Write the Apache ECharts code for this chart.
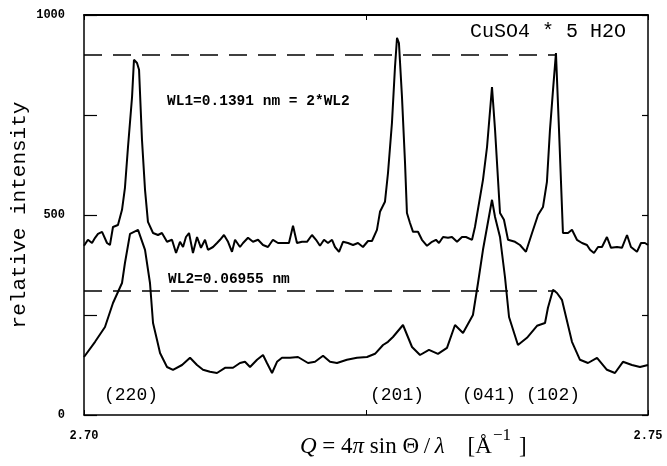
<!DOCTYPE html>
<html>
<head>
<meta charset="utf-8">
<script src="https://cdn.jsdelivr.net/npm/echarts@6/dist/echarts.min.js"></script>
<style>
html,body{margin:0;padding:0;background:#fff;}
#chart{width:667px;height:466px;}
</style>
</head>
<body>
<div id="chart"></div>
<script>
// Q values (Å^-1) and intensities, WL1 = 0.1391 nm (upper curve)
const upperQ = [2.70000,2.70035,2.70071,2.70098,2.70124,2.70160,2.70204,2.70230,2.70257,2.70301,
2.70337,2.70363,2.70390,2.70426,2.70443,2.70470,2.70488,2.70514,2.70541,2.70567,
2.70612,2.70656,2.70691,2.70736,2.70780,2.70816,2.70851,2.70878,2.70904,2.70931,
2.70966,2.71002,2.71037,2.71073,2.71099,2.71144,2.71179,2.71206,2.71241,2.71277,
2.71312,2.71339,2.71383,2.71410,2.71454,2.71498,2.71543,2.71587,2.71631,2.71675,
2.71720,2.71782,2.71817,2.71853,2.71888,2.71933,2.71977,2.72021,2.72057,2.72092,
2.72128,2.72163,2.72199,2.72225,2.72261,2.72296,2.72340,2.72385,2.72429,2.72473,
2.72518,2.72553,2.72597,2.72624,2.72668,2.72695,2.72730,2.72757,2.72775,2.72792,
2.72819,2.72846,2.72863,2.72890,2.72917,2.72961,2.72996,2.73041,2.73085,2.73120,
2.73147,2.73183,2.73227,2.73262,2.73307,2.73351,2.73386,2.73440,2.73466,2.73537,
2.73573,2.73617,2.73644,2.73688,2.73723,2.73759,2.73821,2.73865,2.73918,2.73972,
2.74025,2.74069,2.74104,2.74131,2.74158,2.74184,2.74211,2.74246,2.74291,2.74326,
2.74370,2.74415,2.74459,2.74486,2.74521,2.74557,2.74592,2.74636,2.74672,2.74725,
2.74769,2.74814,2.74849,2.74902,2.74938,2.74973,2.75000];
const upperI = [423,438,430,443,453,458,430,425,470,475,
513,568,670,795,888,880,863,688,563,483,
455,450,455,433,438,405,433,420,445,455,
405,445,418,438,413,420,430,438,450,433,
408,438,420,430,443,433,438,425,420,438,
430,430,430,473,430,433,433,450,438,423,
438,430,438,420,408,433,430,425,430,420,
435,435,463,508,533,605,730,870,943,930,
795,630,505,480,458,458,438,423,433,438,
430,445,443,445,433,445,445,438,470,588,
670,820,713,505,488,438,433,425,408,455,
500,520,583,713,813,905,713,455,455,463,
438,430,425,413,405,420,420,445,418,420,
418,450,420,408,430,430,425];

// WL2 = 0.06955 nm (lower curve)
const lowerQ = [2.70000,2.70098,2.70186,2.70257,2.70337,2.70363,2.70408,2.70479,2.70541,2.70585,
2.70612,2.70647,2.70674,2.70736,2.70789,2.70869,2.70940,2.71002,2.71055,2.71117,
2.71179,2.71250,2.71321,2.71383,2.71427,2.71472,2.71534,2.71587,2.71622,2.71667,
2.71711,2.71755,2.71826,2.71897,2.71986,2.72048,2.72119,2.72181,2.72243,2.72331,
2.72420,2.72509,2.72580,2.72651,2.72695,2.72739,2.72828,2.72908,2.72979,2.73058,
2.73138,2.73218,2.73289,2.73360,2.73448,2.73493,2.73537,2.73617,2.73644,2.73688,
2.73732,2.73768,2.73847,2.73927,2.74016,2.74087,2.74113,2.74158,2.74193,2.74237,
2.74326,2.74397,2.74468,2.74548,2.74636,2.74707,2.74778,2.74858,2.74929,2.75000];
const lowerI = [145,183,220,280,330,380,453,463,413,330,
230,188,155,120,113,125,143,125,113,108,
105,118,118,130,133,120,138,150,130,105,
133,143,143,145,130,133,148,133,130,138,
143,145,153,175,183,195,225,170,150,163,
153,168,225,205,250,330,413,538,495,445,
345,245,175,193,223,230,268,313,305,288,
183,138,130,143,113,105,133,125,120,125];

// dashed reference levels (heights of the (102) reflection)
const refLevelQ = [2.70, 2.7418];
const refUpper = 900;
const refLower = 310;

const yTickLabels = [0, 500, 1000];
const xTickLabels = ['2.70', '2.75'];

const zip = (a, b) => a.map((v, i) => [v, b[i]]);

const chart = echarts.init(document.getElementById('chart'), null, {renderer: 'canvas'});
const mono = "'Liberation Mono', 'DejaVu Sans Mono', monospace";
const serif = "'Liberation Serif', 'DejaVu Serif', serif";

const boxLine = {show: true, onZero: false, lineStyle: {color: '#000', width: 1.5}};

const option = {
  animation: false,
  backgroundColor: '#fff',
  grid: {left: 84, right: 19, top: 15, bottom: 51, containLabel: false, outerBoundsMode: 'none'},
  xAxis: [{
    type: 'value', min: 2.70, max: 2.75, interval: 0.025,
    axisLine: boxLine,
    axisTick: {inside: true, length: 5, lineStyle: {color: '#000', width: 1}},
    splitLine: {show: false},
    axisLabel: {
      color: '#000', fontFamily: mono, fontWeight: 'bold', fontSize: 12, margin: 15,
      formatter: v => { const s = v.toFixed(2); return (xTickLabels.indexOf(s) >= 0 && Math.abs(v - parseFloat(s)) < 1e-6) ? s : ''; }
    }
  }, {
    type: 'value', min: 2.70, max: 2.75, interval: 0.025, position: 'top',
    axisLine: {show: true, onZero: false, lineStyle: {color: '#000', width: 1.8}},
    axisTick: {inside: true, length: 5, lineStyle: {color: '#000', width: 1}},
    axisLabel: {show: false}, splitLine: {show: false}
  }],
  yAxis: [{
    type: 'value', min: 0, max: 1000, interval: 250,
    name: 'relative intensity', nameLocation: 'middle', nameRotate: 90, nameGap: 54,
    nameMoveOverlap: false,
    nameTextStyle: {color: '#000', fontFamily: mono, fontSize: 21},
    axisLine: boxLine,
    axisTick: {inside: true, length: 13, lineStyle: {color: '#000', width: 1.2}},
    splitLine: {show: false},
    axisLabel: {
      color: '#000', fontFamily: mono, fontWeight: 'bold', fontSize: 12, margin: 19,
      formatter: v => yTickLabels.indexOf(v) >= 0 ? String(v) : ''
    }
  }, {
    type: 'value', min: 0, max: 1000, interval: 250, position: 'right',
    axisLine: boxLine,
    axisTick: {inside: true, length: 6, lineStyle: {color: '#000', width: 1.2}},
    axisLabel: {show: false}, splitLine: {show: false}
  }],
  series: [
    {type: 'line', data: zip(upperQ, upperI), showSymbol: false, symbol: 'none',
     lineStyle: {color: '#000', width: 2}, z: 3},
    {type: 'line', data: zip(lowerQ, lowerI), showSymbol: false, symbol: 'none',
     lineStyle: {color: '#000', width: 2}, z: 3},
    {type: 'line', data: refLevelQ.map(q => [q, refUpper]), showSymbol: false, symbol: 'none',
     lineStyle: {color: '#000', width: 1.6, type: [18, 11]}, z: 2},
    {type: 'line', data: refLevelQ.map(q => [q, refLower]), showSymbol: false, symbol: 'none',
     lineStyle: {color: '#000', width: 1.6, type: [18, 11]}, z: 2}
  ],
  graphic: [
    {type: 'text', left: 470, top: 22, style: {text: 'CuSO4 * 5 H2O', font: "20px " + mono, fill: '#000'}},
    {type: 'text', left: 167, top: 94, style: {text: 'WL1=0.1391 nm = 2*WL2', font: "bold 14.5px " + mono, fill: '#000'}},
    {type: 'text', left: 168, top: 272, style: {text: 'WL2=0.06955 nm', font: "bold 14.5px " + mono, fill: '#000'}},
    {type: 'text', left: 104, top: 386, style: {text: '(220)', font: "18px " + mono, fill: '#000'}},
    {type: 'text', left: 370, top: 386, style: {text: '(201)', font: "18px " + mono, fill: '#000'}},
    {type: 'text', left: 462, top: 386, style: {text: '(041)', font: "18px " + mono, fill: '#000'}},
    {type: 'text', left: 526, top: 386, style: {text: '(102)', font: "18px " + mono, fill: '#000'}},
    {type: 'text', left: 300, top: 427, style: {
      text: '{i|Q} = 4{i|π} sin Θ\u2009/\u2009{i|λ}    [Å{s|−1}]',
      font: "23px " + serif, fill: '#000', lineHeight: 40,
      rich: {
        i: {fontFamily: serif, fontSize: 23, fontStyle: 'italic', fill: '#000', lineHeight: 40},
        s: {fontFamily: serif, fontSize: 17, fill: '#000', lineHeight: 17, verticalAlign: 'top', padding: [0, 8, 0, 1]}
      }
    }}
  ]
};
chart.setOption(option);
</script>
</body>
</html>
